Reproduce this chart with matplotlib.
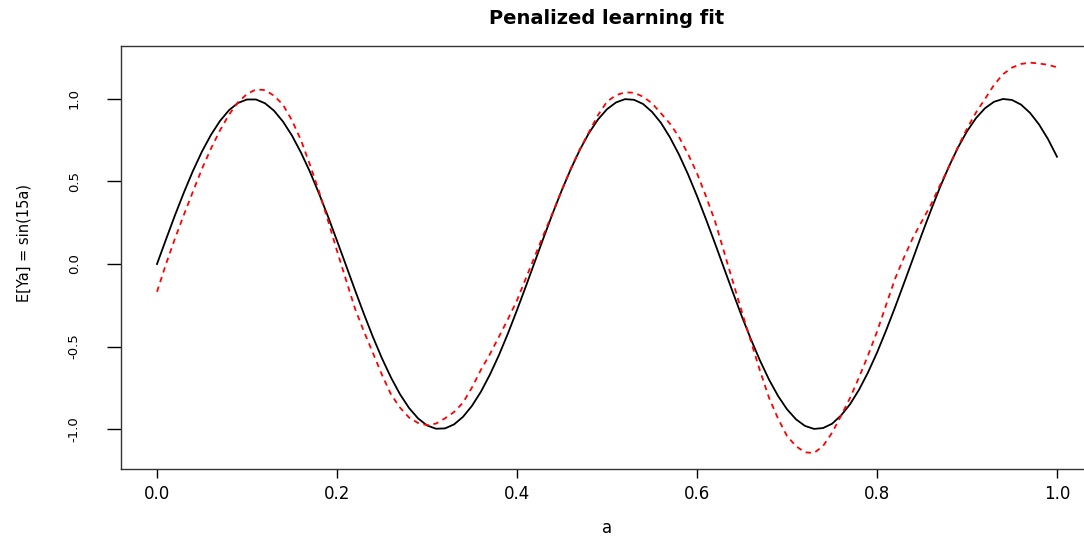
"""Penalized learning fit vs the true mean curve E[Ya] = sin(15a)."""
import matplotlib
matplotlib.use("Agg")
import matplotlib.pyplot as plt

# grid of the treatment values a (0.00 .. 1.00, step 0.01)
a = [i / 100 for i in range(101)]

# true curve (black), read at each grid value
truth = [0.000, 0.149, 0.296, 0.435, 0.565, 0.682, 0.783, 0.867, 0.932, 0.976,
         0.997, 0.997, 0.974, 0.929, 0.863, 0.778, 0.675, 0.558, 0.427, 0.288,
         0.141, -0.008, -0.158, -0.304, -0.443, -0.572, -0.688, -0.789, -0.872, -0.935,
         -0.978, -0.998, -0.996, -0.972, -0.926, -0.859, -0.773, -0.669, -0.551, -0.420,
         -0.279, -0.133, 0.017, 0.166, 0.312, 0.450, 0.578, 0.694, 0.794, 0.876,
         0.938, 0.979, 0.999, 0.995, 0.970, 0.922, 0.855, 0.767, 0.663, 0.544,
         0.412, 0.271, 0.125, -0.025, -0.174, -0.320, -0.457, -0.585, -0.700, -0.799,
         -0.880, -0.941, -0.981, -0.999, -0.994, -0.968, -0.918, -0.850, -0.762, -0.657,
         -0.537, -0.404, -0.263, -0.116, 0.033, 0.183, 0.327, 0.465, 0.592, 0.706,
         0.804, 0.884, 0.944, 0.983, 1.000, 0.994, 0.966, 0.916, 0.846, 0.757,
         0.650]

# penalized fit (red dashed)
fit = [-0.168, 0.000, 0.155, 0.300, 0.440, 0.577, 0.700, 0.810, 0.905, 0.980,
       1.030, 1.058, 1.054, 1.020, 0.965, 0.870, 0.750, 0.600, 0.440, 0.263,
       0.080, -0.096, -0.270, -0.410, -0.540, -0.672, -0.790, -0.870, -0.930, -0.963,
       -0.976, -0.967, -0.935, -0.897, -0.840, -0.748, -0.640, -0.545, -0.440, -0.333,
       -0.220, -0.085, 0.050, 0.184, 0.315, 0.452, 0.580, 0.697, 0.800, 0.902,
       0.984, 1.023, 1.040, 1.038, 1.014, 0.974, 0.913, 0.850, 0.770, 0.667,
       0.550, 0.410, 0.260, 0.075, -0.110, -0.293, -0.470, -0.647, -0.810, -0.936,
       -1.042, -1.104, -1.141, -1.145, -1.103, -1.023, -0.920, -0.812, -0.687, -0.554,
       -0.410, -0.250, -0.090, 0.040, 0.160, 0.260, 0.360, 0.478, 0.590, 0.710,
       0.820, 0.918, 1.000, 1.085, 1.150, 1.190, 1.212, 1.220, 1.215, 1.207,
       1.192]

xticks = [0.0, 0.2, 0.4, 0.6, 0.8, 1.0]
xtick_labels = ["0.0", "0.2", "0.4", "0.6", "0.8", "1.0"]
yticks = [-1.0, -0.5, 0.0, 0.5, 1.0]
ytick_labels = ["-1.0", "-0.5", "0.0", "0.5", "1.0"]


def main():
    plt.rcParams["font.family"] = ["DejaVu Sans"]
    fig = plt.figure(figsize=(10.84, 5.37), dpi=100)
    # plot region runs past the right edge, like the original device
    ax = fig.add_axes([121 / 1084, 1 - 469 / 537, 972 / 1084, 423 / 537])

    ax.plot(a, truth, color="black", lw=1.3)
    ax.plot(a, fit, color="red", lw=1.3, dashes=(3, 2.6))

    ax.set_xlim(-0.04, 1.04)
    ax.set_ylim(-1.242, 1.321)

    ax.set_xticks(xticks)
    ax.set_xticklabels(xtick_labels, fontsize=12)
    ax.set_yticks(yticks)
    ax.set_yticklabels(ytick_labels, fontsize=9.5, rotation=90, va="center")
    ax.tick_params(axis="x", length=6.5, width=1.0, pad=5.3)
    ax.tick_params(axis="y", length=10, width=1.0, pad=19)

    for s in ax.spines.values():
        s.set_linewidth(1.0)
        s.set_color("#333333")

    ax.set_title("Penalized learning fit", fontsize=14, fontweight="bold", pad=16)
    ax.set_xlabel("a", fontsize=12)
    ax.xaxis.set_label_coords(0.5, -0.118)
    ax.xaxis.label.set_va("top")
    ax.set_ylabel("E[Ya] = sin(15a)", fontsize=10.5)
    ax.yaxis.set_label_coords(-0.0916, 0.534)

    fig.savefig("out.png", dpi=100)


if __name__ == "__main__":
    main()
